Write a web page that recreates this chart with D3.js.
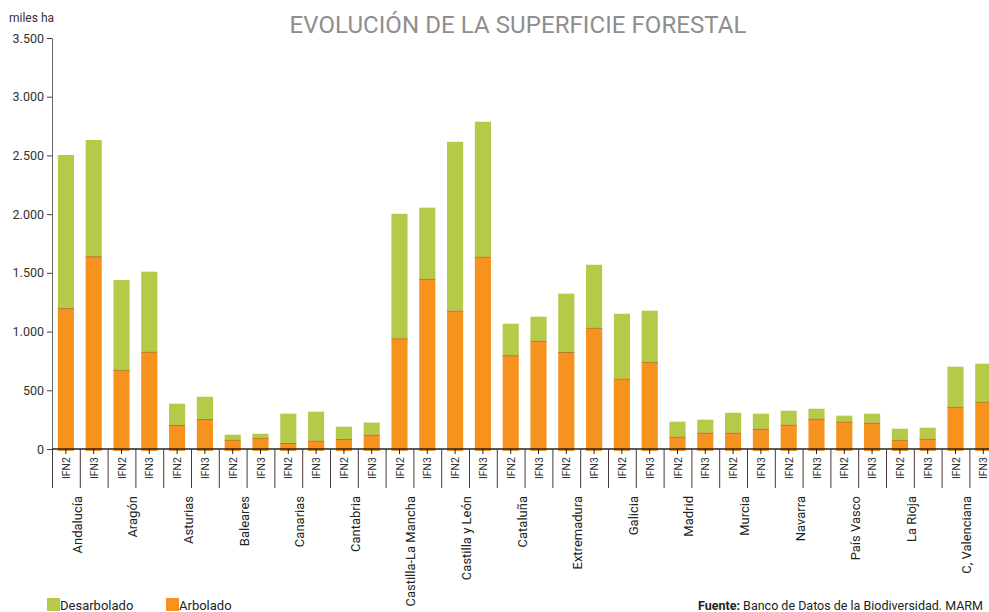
<!DOCTYPE html>
<html>
<head>
<meta charset="utf-8">
<script src="https://cdn.jsdelivr.net/npm/d3@7"></script>
<style>
  body { margin: 0; background: #fff; }
  svg { display: block; font-family: Roboto, "DejaVu Sans", sans-serif; }
</style>
</head>
<body>
<svg id="chart" width="989" height="612"></svg>
<script>
const regions = ["Andalucía", "Aragón", "Asturias", "Baleares", "Canarias", "Cantabria",
    "Castilla-La Mancha", "Castilla y León", "Cataluña", "Extremadura", "Galicia",
    "Madrid", "Murcia", "Navarra", "País Vasco", "La Rioja", "C, Valenciana"];
const inventories = ["IFN2", "IFN3"];

// miles ha
const arboladoIFN2 = [1200, 675, 204, 79, 51, 85, 942, 1178, 798, 826, 599, 105, 139, 207, 233, 79, 360];
const arboladoIFN3 = [1641, 829, 255, 96, 71, 122, 1450, 1638, 922, 1033, 743, 139, 173, 258, 224, 88, 403];
const desarboladoIFN2 = [1304, 764, 182, 43, 250, 105, 1061, 1438, 269, 497, 553, 128, 170, 119, 51, 94, 341];
const desarboladoIFN3 = [990, 681, 190, 34, 247, 103, 605, 1149, 205, 536, 435, 111, 128, 85, 77, 93, 324];

const yTicks = [0, 500, 1000, 1500, 2000, 2500, 3000, 3500];
const series = ["Arbolado", "Desarbolado"];
const colors = { Arbolado: "#f6921e", Desarbolado: "#b4ca48" };

const rows = [];
regions.forEach((r, i) => {
    rows.push({ key: r + "|IFN2", region: r, inv: "IFN2", Arbolado: arboladoIFN2[i], Desarbolado: desarboladoIFN2[i] });
    rows.push({ key: r + "|IFN3", region: r, inv: "IFN3", Arbolado: arboladoIFN3[i], Desarbolado: desarboladoIFN3[i] });
});

const svg = d3.select("#chart");
const left = 52, baseY = 449, topY = 38;

const x = d3.scaleBand()
    .domain(rows.map(d => d.key))
    .range([left, left + rows.length * 27.8]);
const y = d3.scaleLinear().domain([0, 3500]).range([baseY, topY]);

const barW = x.bandwidth() * 0.58;
const barOff = (x.bandwidth() - barW) / 2;

// title
svg.append("text")
    .attr("x", 518).attr("y", 33)
    .attr("text-anchor", "middle")
    .attr("font-size", 24)
    .attr("fill", "#8e8e8e")
    .attr("textLength", 457)
    .text("EVOLUCIÓN DE LA SUPERFICIE FORESTAL");

svg.append("text")
    .attr("x", 9).attr("y", 22)
    .attr("font-size", 12)
    .attr("fill", "#333")
    .text("miles ha");

// y axis
const yAxis = svg.append("g")
    .attr("transform", `translate(${left},0)`)
    .call(d3.axisLeft(y).tickValues(yTicks).tickSize(5)
        .tickFormat(d => d3.format(",")(d).replace(/,/g, ".")));
yAxis.select(".domain").attr("stroke", "#666");
yAxis.selectAll(".tick line").attr("stroke", "#444");
yAxis.selectAll(".tick text")
    .attr("font-size", 12.5)
    .attr("fill", "#333")
    .attr("x", -8)
    .attr("font-family", "Roboto, sans-serif");

// stacked bars
const stacked = d3.stack().keys(series)(rows);
svg.append("g")
    .selectAll("g")
    .data(stacked)
    .join("g")
    .attr("fill", d => colors[d.key])
    .selectAll("rect")
    .data(d => d)
    .join("rect")
    .attr("x", d => x(d.data.key) + barOff)
    .attr("width", barW)
    .attr("y", d => y(d[1]))
    .attr("height", d => y(d[0]) - y(d[1]) + (d[0] === 0 ? 2 : 0));

// seam between arbolado and desarbolado
svg.append("g")
    .attr("stroke", "#b07d2c")
    .attr("stroke-width", 1)
    .selectAll("line")
    .data(rows)
    .join("line")
    .attr("x1", d => x(d.key) + barOff)
    .attr("x2", d => x(d.key) + barOff + barW)
    .attr("y1", d => y(d.Arbolado) + 0.5)
    .attr("y2", d => y(d.Arbolado) + 0.5);

// baseline and dividers
svg.append("line")
    .attr("x1", left).attr("x2", 989)
    .attr("y1", baseY).attr("y2", baseY)
    .attr("stroke", "#222").attr("stroke-width", 1.5);

svg.append("g")
    .attr("stroke", "#4a3434")
    .selectAll("line")
    .data(rows)
    .join("line")
    .attr("x1", d => x(d.key) + 0.5)
    .attr("x2", d => x(d.key) + 0.5)
    .attr("y1", baseY)
    .attr("y2", 488);

// small ticks at bar centres
svg.append("g")
    .attr("stroke", "#222")
    .selectAll("line")
    .data(rows)
    .join("line")
    .attr("x1", d => x(d.key) + x.bandwidth() / 2)
    .attr("x2", d => x(d.key) + x.bandwidth() / 2)
    .attr("y1", baseY)
    .attr("y2", baseY + 5);

// IFN labels
svg.append("g")
    .selectAll("text")
    .data(rows)
    .join("text")
    .attr("transform", d => `translate(${x(d.key) + x.bandwidth() / 2 + 0.5},457) rotate(-90)`)
    .attr("dy", "0.35em")
    .attr("text-anchor", "end")
    .attr("font-size", 10.5)
    .attr("fill", "#333")
    .text(d => d.inv);

// region labels
svg.append("g")
    .selectAll("text")
    .data(regions)
    .join("text")
    .attr("transform", d => `translate(${x(d + "|IFN3") + 2},496) rotate(-90)`)
    .attr("text-anchor", "end")
    .attr("font-size", 13)
    .attr("fill", "#222")
    .text(d => d);

// legend
const legendItems = [
    { name: "Desarbolado", x: 47 },
    { name: "Arbolado", x: 166 }
];
const lg = svg.append("g")
    .selectAll("g")
    .data(legendItems)
    .join("g")
    .attr("transform", d => `translate(${d.x},598)`);
lg.append("rect")
    .attr("width", 13).attr("height", 13)
    .attr("fill", d => colors[d.name]);
lg.append("text")
    .attr("x", 13).attr("y", 11.5)
    .attr("font-size", 13)
    .attr("fill", "#222")
    .text(d => d.name);

// source
const src = svg.append("text")
    .attr("x", 698).attr("y", 610)
    .attr("font-size", 12.5)
    .attr("fill", "#222");
src.append("tspan").attr("font-weight", "bold").text("Fuente:");
src.append("tspan").text(" Banco de Datos de la Biodiversidad. MARM");
</script>
</body>
</html>
